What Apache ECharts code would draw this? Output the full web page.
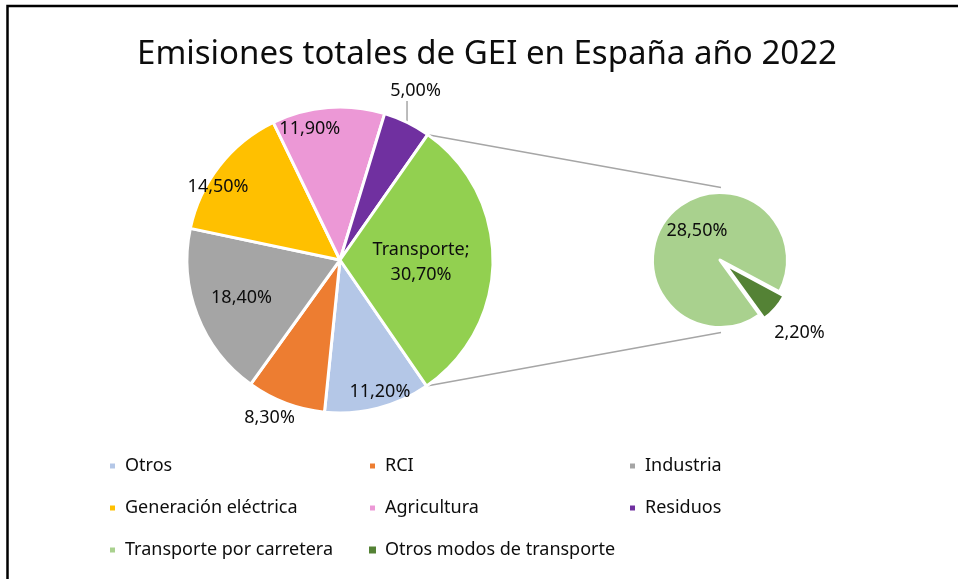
<!DOCTYPE html>
<html lang="es">
<head>
    <meta charset="UTF-8">
    <title>Emisiones GEI España 2022</title>
    <script src="https://cdn.jsdelivr.net/npm/echarts@6/dist/echarts.min.js"></script>
    <style>
        * {
            margin: 0;
            padding: 0;
        }

        html, body {
            width: 100%;
            height: 100%;
            background: #fff;
        }

        #chart {
            width: 958px;
            height: 579px;
        }
    </style>
</head>
<body>
<div id="chart"></div>
<script>
    // datos
    const sectores = ['Otros', 'RCI', 'Industria', 'Generación eléctrica', 'Agricultura', 'Residuos', 'Transporte']
    const porcentajes = [11.2, 8.3, 18.4, 14.5, 11.9, 5.0, 30.7]
    const transporte = ['Transporte por carretera', 'Otros modos de transporte']
    const transporteValores = [28.5, 2.2]

    const colores = {
        'Otros': '#b4c7e7',
        'RCI': '#ed7d31',
        'Industria': '#a5a5a5',
        'Generación eléctrica': '#ffc000',
        'Agricultura': '#ec98d6',
        'Residuos': '#7030a0',
        'Transporte': '#92d050',
        'Transporte por carretera': '#a9d18e',
        'Otros modos de transporte': '#548235'
    }

    const fuente = '"Noto Sans", sans-serif'
    const texto = '#0d0d0d'
    const nada = 'rgba(0,0,0,0)'

    // geometria de las dos tartas
    const principal = {cx: 340, cy: 260, r: 153, start: -55.5}
    const secundaria = {cx: 720, cy: 260, r: 67.5, start: -54}
    const separacion = 6

    // donde va cada etiqueta: [fraccion del radio, giro en grados]
    const posEtiqueta = {
        'Otros': [0.9, 2.5],
        'RCI': [1.13, -3.3],
        'Industria': [0.69, 0],
        'Generación eléctrica': [0.93, 7],
        'Agricultura': [0.88, 8.5],
        'Residuos': [1.21, 1.9],
        'Transporte': [0.53, -1.2],
        'Transporte por carretera': [0.55, -10.5],
        'Otros modos de transporte': [1.6, -1.5]
    }

    const anguloBorde = function (vals, i, start) {
        const total = vals.reduce((a, b) => a + b, 0)
        let acum = 0
        for (let k = 0; k < i; k++) acum += vals[k]
        return start - acum / total * 360
    }

    const anguloMedio = function (vals, i, start) {
        const total = vals.reduce((a, b) => a + b, 0)
        return anguloBorde(vals, i, start) - vals[i] / total * 180
    }

    const polar = function (c, ang, rr) {
        const a = ang * Math.PI / 180
        return [c.cx + rr * Math.cos(a), c.cy - rr * Math.sin(a)]
    }

    const fmt = function (v) {
        return v.toFixed(2).replace('.', ',') + '%'
    }

    const layoutDe = function (c, nombres, vals) {
        return function (p) {
            const i = p.dataIndex
            const pos = posEtiqueta[nombres[i]]
            const ang = anguloMedio(vals, i, c.start) + pos[1]
            const pt = polar(c, ang, pos[0] * c.r)
            const res = {x: pt[0], y: pt[1], align: 'center', verticalAlign: 'middle'}
            if (nombres[i] === 'Residuos') {
                const borde = polar(c, anguloMedio(vals, i, c.start), c.r)
                res.labelLinePoints = [[borde[0], borde[1]], [borde[0], pt[1] + 10], [borde[0], pt[1] + 10]]
            }
            return res
        }
    }

    const datosPrincipal = sectores.map((s, i) => {
        const d = {name: s, value: porcentajes[i], itemStyle: {color: colores[s]}}
        if (s === 'Transporte') {
            d.label = {formatter: 'Transporte;\n' + fmt(porcentajes[i]), lineHeight: 25}
        }
        if (s === 'Residuos') {
            d.label = {position: 'outside'}
            d.labelLine = {show: true, lineStyle: {color: '#a6a6a6', width: 1.5}}
        }
        return d
    })

    // la tarta pequeña va en dos series: la porcion separada se dibuja aparte
    const iSep = 1
    const datosSecundaria = transporte.map((s, i) => ({
        name: s,
        value: transporteValores[i],
        itemStyle: i === iSep ? {color: nada, borderWidth: 0} : {color: colores[s]},
        label: {show: i !== iSep}
    }))
    const datosSeparada = transporte.map((s, i) => ({
        name: s,
        value: transporteValores[i],
        itemStyle: i === iSep ? {color: colores[s]} : {color: nada, borderWidth: 0},
        label: {show: i === iSep}
    }))
    const centroSep = polar(secundaria, anguloMedio(transporteValores, iSep, secundaria.start), separacion)

    // lineas de union entre las dos tartas
    const iT = sectores.indexOf('Transporte')
    const pArriba = polar(principal, anguloBorde(porcentajes, iT, principal.start), principal.r)
    const pAbajo = polar(principal, principal.start, principal.r)
    const sArriba = [secundaria.cx + 1, secundaria.cy - secundaria.r - 5]
    const sAbajo = [secundaria.cx + 1, secundaria.cy + secundaria.r + 5]

    const legendaBase = {
        orient: 'vertical',
        top: 455,
        padding: 0,
        itemWidth: 7,
        itemHeight: 7,
        icon: 'rect',
        itemGap: 20,
        selectedMode: false,
        textStyle: {fontFamily: fuente, fontSize: 18, color: texto, lineHeight: 22, padding: [0, 0, 0, 4]}
    }
    const itemsLegenda = function (nombres) {
        return nombres.map(n => ({name: n, itemStyle: {color: colores[n]}}))
    }

    const etiqueta = {
        show: true,
        position: 'inside',
        formatter: p => fmt(p.value),
        fontFamily: fuente,
        fontSize: 18,
        color: texto
    }

    const chart = echarts.init(document.getElementById('chart'))
    chart.setOption({
        animation: false,
        backgroundColor: '#fff',
        title: {
            text: 'Emisiones totales de GEI en España año 2022',
            left: 482,
            textAlign: 'center',
            top: 33,
            textStyle: {fontFamily: fuente, fontSize: 33, fontWeight: 'normal', color: texto}
        },
        legend: [
            Object.assign({}, legendaBase, {left: 108, data: itemsLegenda(['Otros', 'Generación eléctrica', 'Transporte por carretera'])}),
            Object.assign({}, legendaBase, {left: 368, data: itemsLegenda(['RCI', 'Agricultura', 'Otros modos de transporte'])}),
            Object.assign({}, legendaBase, {left: 628, data: itemsLegenda(['Industria', 'Residuos'])})
        ],
        graphic: [
            {
                type: 'rect',
                shape: {x: 7.5, y: 6, width: 1200, height: 1200},
                style: {fill: 'none', stroke: '#000', lineWidth: 2.5},
                silent: true
            },
            {
                type: 'line',
                shape: {x1: pArriba[0], y1: pArriba[1], x2: sArriba[0], y2: sArriba[1]},
                style: {stroke: '#a6a6a6', lineWidth: 1.5},
                silent: true
            },
            {
                type: 'line',
                shape: {x1: pAbajo[0], y1: pAbajo[1], x2: sAbajo[0], y2: sAbajo[1]},
                style: {stroke: '#a6a6a6', lineWidth: 1.5},
                silent: true
            }
        ],
        series: [
            {
                type: 'pie',
                center: [principal.cx, principal.cy],
                radius: principal.r,
                startAngle: principal.start,
                clockwise: true,
                avoidLabelOverlap: false,
                itemStyle: {borderColor: '#fff', borderWidth: 3},
                label: etiqueta,
                labelLine: {show: false},
                labelLayout: layoutDe(principal, sectores, porcentajes),
                emphasis: {disabled: true},
                data: datosPrincipal
            },
            {
                type: 'pie',
                center: [secundaria.cx, secundaria.cy],
                radius: secundaria.r,
                startAngle: secundaria.start,
                clockwise: true,
                avoidLabelOverlap: false,
                itemStyle: {borderColor: '#fff', borderWidth: 3},
                label: etiqueta,
                labelLine: {show: false},
                labelLayout: layoutDe(secundaria, transporte, transporteValores),
                emphasis: {disabled: true},
                data: datosSecundaria
            },
            {
                type: 'pie',
                center: centroSep,
                radius: secundaria.r,
                startAngle: secundaria.start,
                clockwise: true,
                avoidLabelOverlap: false,
                itemStyle: {borderColor: '#fff', borderWidth: 3},
                label: etiqueta,
                labelLine: {show: false},
                labelLayout: layoutDe(secundaria, transporte, transporteValores),
                emphasis: {disabled: true},
                data: datosSeparada
            }
        ]
    })
</script>
</body>
</html>
